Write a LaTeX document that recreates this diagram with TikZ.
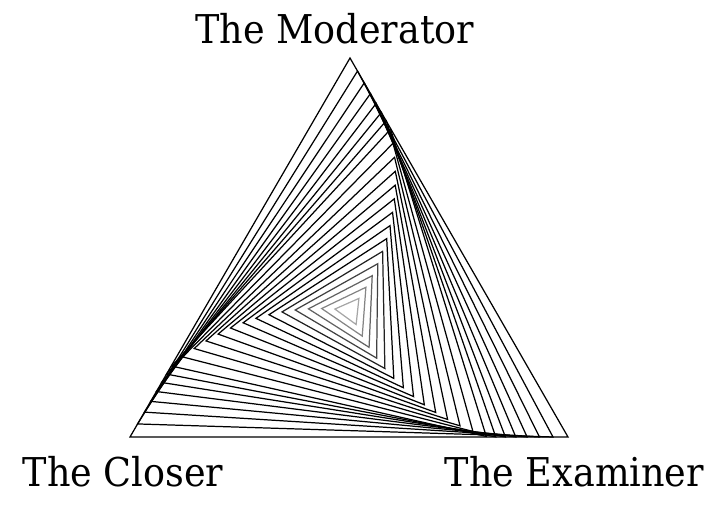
\documentclass[tikz,border=0pt]{standalone}
\usepackage{fontspec}
\setmainfont{DejaVu Serif}
\usetikzlibrary{calc,positioning}

\begin{document}
\begin{tikzpicture}[
  x=0.02cm, y=-0.02cm,
  role/.style={font=\fontsize{22.6}{27}\selectfont, xscale=0.92, inner sep=0pt},
  ring/.style={line width=0.7pt, line join=miter}
]
  \useasboundingbox (0,0) rectangle (719,511);

  \coordinate (a0) at (350,58);
  \coordinate (b0) at (568,437);
  \coordinate (c0) at (130,437);
  \coordinate (o) at (350,310.67);

  % turn about the centre; corners ride the outer sides, then shrink inward
  \foreach \k [evaluate=\k as \s using {min(0.5/cos(60-1.8*\k),1.1-0.052*\k)},
               evaluate=\k as \r using -1.8*\k,
               evaluate=\k as \ink using {int(min(100,100-(\k-15)*13))}] in {0,...,20} {
    \draw[ring, draw=black!\ink]
      ($(o)!\s!\r:(a0)$) -- ($(o)!\s!\r:(b0)$) -- ($(o)!\s!\r:(c0)$) -- cycle;
  }

  \node[role, above=0.28cm of a0, xshift=-0.33cm] (moderator) {The Moderator};
  \node[role, below=0.38cm of c0, xshift=-0.15cm] (closer) {The Closer};
  \node[role, below=0.38cm of b0, xshift=0.14cm] (examiner) {The Examiner};
\end{tikzpicture}
\end{document}
